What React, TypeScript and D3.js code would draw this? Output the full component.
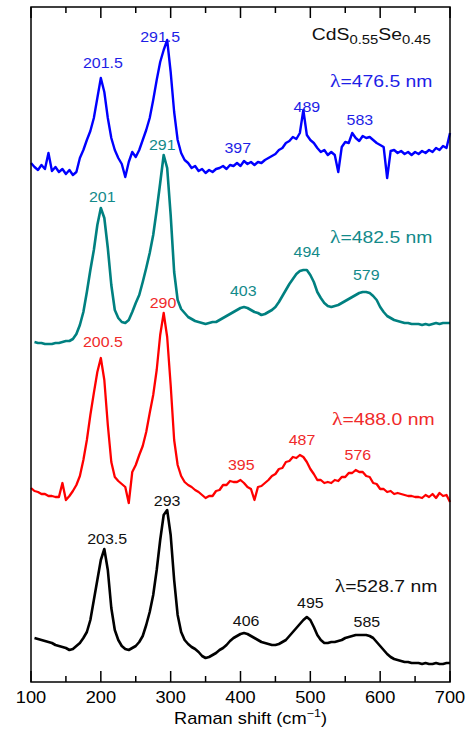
import React from 'react';
import * as d3 from 'd3';

// Raman shift grid (cm^-1)
const ramanShift = [
  100,105,110,115,120,125,130,135,140,145,
  150,155,160,165,170,175,180,185,190,195,
  200,205,210,215,220,225,230,235,240,245,
  250,255,260,265,270,275,280,285,290,295,
  300,305,310,315,320,325,330,335,340,345,
  350,355,360,365,370,375,380,385,390,395,
  400,405,410,415,420,425,430,435,440,445,
  450,455,460,465,470,475,480,485,490,495,
  500,505,510,515,520,525,530,535,540,545,
  550,555,560,565,570,575,580,585,590,595,
  600,605,610,615,620,625,630,635,640,645,
  650,655,660,665,670,675,680,685,690,695,
  700,
];

// Stacked intensities (arb. units, offsets included)
const blue4765 = [
  519,515,512,517,513,529,511,515,510,513,
  508,512,507,510,524,532,542,551,564,584,
  604,590,564,544,532,524,518,505,520,530,
  525,532,542,552,564,582,602,620,632,642,
  610,570,542,529,522,519,514,516,511,513,
  509,512,510,513,514,516,513,517,516,519,
  516,521,518,520,517,520,519,522,524,526,
  528,532,534,539,541,545,543,549,572,547,
  542,539,534,530,532,527,530,527,510,535,
  540,539,549,544,541,546,544,545,542,539,
  537,535,504,531,532,529,531,528,530,527,
  530,528,531,529,532,530,534,532,536,534,
  549,
];

const teal4825 = [
  null,340,339,339,338,338,338,339,339,340,
  341,341,343,348,357,370,390,412,432,457,
  474,464,434,397,372,364,360,359,362,370,
  379,387,400,414,429,447,472,499,527,514,
  467,410,382,373,369,365,363,361,360,359,
  358,359,360,360,362,364,366,368,370,372,
  374,375,374,372,370,369,367,368,370,372,
  375,380,386,392,398,403,408,411,412,412,
  407,400,390,384,379,376,375,376,377,379,
  381,383,385,387,389,390,390,389,386,382,
  375,370,366,364,362,361,360,359,359,358,
  358,358,357,358,357,358,359,358,359,359,
  359,
];

const red4880 = [
  194,191,190,188,188,186,186,185,185,199,
  182,186,191,197,206,222,242,267,289,310,
  324,302,257,220,205,201,198,195,179,210,
  217,227,236,250,269,287,312,347,369,345,
  297,242,217,206,200,197,195,192,190,187,
  184,186,186,191,192,197,197,201,200,200,
  202,199,195,193,182,195,196,199,202,206,
  208,213,214,220,221,225,224,227,225,220,
  213,208,202,202,199,200,199,202,201,205,
  205,209,209,212,210,210,206,205,199,198,
  193,193,190,191,188,189,188,187,186,186,
  185,185,184,187,185,188,184,189,186,187,
  180,
];

const black5287 = [
  null,44,43,42,41,40,39,37,36,35,
  34,32,33,36,39,44,50,62,82,102,
  122,133,112,74,52,42,36,33,32,34,
  36,40,46,57,70,87,112,142,167,172,
  147,102,67,50,42,38,35,33,30,26,
  24,25,27,29,32,34,37,41,44,46,
  48,49,48,46,44,42,40,39,38,37,
  37,38,40,42,46,50,54,58,62,65,
  62,55,47,42,39,39,40,40,41,42,
  44,45,46,47,47,47,47,46,44,40,
  36,32,28,25,23,22,21,20,20,19,
  19,19,18,19,18,18,19,18,18,19,
  19,
];

// Peak annotations: text, shift, intensity level
const bluePeakText = ['201.5', '291.5', '397', '489', '583'];
const bluePeakShift = [203, 285, 396, 495, 571];
const bluePeakLevel = [614, 640, 529, 570, 557];

const tealPeakText = ['201', '291', '403', '494', '579'];
const tealPeakShift = [202, 288, 404, 495, 580];
const tealPeakLevel = [480, 532, 386, 425, 402];

const redPeakText = ['200.5', '290', '395', '487', '576'];
const redPeakShift = [203, 289, 401, 488, 568];
const redPeakLevel = [335, 374, 212, 237, 222];

const blackPeakText = ['203.5', '293', '406', '495', '585'];
const blackPeakShift = [209, 295, 408, 500, 581];
const blackPeakLevel = [138, 176, 56, 74, 55];

const laserText = ['=476.5 nm', '=482.5 nm', '=488.0 nm', '=528.7 nm'];
const laserShift = [528, 528, 531, 535];
const laserLevel = [595, 439, 257, 90];

const majorTicks = [100, 200, 300, 400, 500, 600, 700];
const minorTicks = [150, 250, 350, 450, 550, 650];
const tickLabels = ['100', '200', '300', '400', '500', '600', '700'];

const W = 466;
const H = 729;
const M = { left: 31, right: 450, top: 7, bottom: 682 };

const COLORS = {
  blue: '#0000ff',
  blueText: '#1e1ee6',
  teal: '#008080',
  tealText: '#138a8a',
  red: '#ff0000',
  redText: '#f02a2a',
  black: '#000000',
};

const FONT = "'Liberation Sans', Arial, sans-serif";
const SX = 1.14;

function Txt({ x, y, size, fill, anchor = 'middle', children }: any) {
  return (
    <text
      transform={`translate(${x},${y}) scale(${SX},1)`}
      fontSize={size}
      fill={fill}
      textAnchor={anchor}
      fontFamily={FONT}
    >
      {children}
    </text>
  );
}

export default function App() {
  const x = d3.scaleLinear().domain([100, 700]).range([M.left, M.right]);
  const y = d3.scaleLinear().domain([0, 675]).range([M.bottom, M.top]);

  const line = d3
    .line<number | null>()
    .defined((d) => d != null)
    .x((_, i) => x(ramanShift[i]))
    .y((d) => y(d as number));

  const series = [
    { data: blue4765, color: COLORS.blue, w: 2.4 },
    { data: teal4825, color: COLORS.teal, w: 2.6 },
    { data: red4880, color: COLORS.red, w: 2.3 },
    { data: black5287, color: COLORS.black, w: 2.6 },
  ];

  const peakGroups = [
    { t: bluePeakText, s: bluePeakShift, l: bluePeakLevel, c: COLORS.blueText },
    { t: tealPeakText, s: tealPeakShift, l: tealPeakLevel, c: COLORS.tealText },
    { t: redPeakText, s: redPeakShift, l: redPeakLevel, c: COLORS.redText },
    { t: blackPeakText, s: blackPeakShift, l: blackPeakLevel, c: '#111' },
  ];

  return (
    <svg
      width={W}
      height={H}
      style={{ position: 'absolute', left: 0, top: 0, overflow: 'hidden', background: '#fff' }}
    >
      <rect x={0} y={0} width={W} height={H} fill="#fff" />
      {series.map((s, i) => (
        <path
          key={i}
          d={line(s.data as any) || ''}
          fill="none"
          stroke={s.color}
          strokeWidth={s.w}
          strokeLinejoin="round"
        />
      ))}

      {/* frame */}
      <rect
        x={M.left}
        y={M.top}
        width={M.right - M.left}
        height={M.bottom - M.top}
        fill="none"
        stroke="#000"
        strokeWidth={1.5}
      />
      {majorTicks.map((t) => (
        <g key={'M' + t}>
          <line x1={x(t)} x2={x(t)} y1={M.bottom} y2={M.bottom - 11} stroke="#000" strokeWidth={1.5} />
          <line x1={x(t)} x2={x(t)} y1={M.top} y2={M.top + 11} stroke="#000" strokeWidth={1.5} />
        </g>
      ))}
      {minorTicks.map((t) => (
        <g key={'m' + t}>
          <line x1={x(t)} x2={x(t)} y1={M.bottom} y2={M.bottom - 6} stroke="#000" strokeWidth={1.5} />
          <line x1={x(t)} x2={x(t)} y1={M.top} y2={M.top + 6} stroke="#000" strokeWidth={1.5} />
        </g>
      ))}
      {majorTicks.map((t, i) => (
        <Txt key={'L' + t} x={x(t)} y={703} size={16} fill="#000">
          {tickLabels[i]}
        </Txt>
      ))}
      <Txt x={(M.left + M.right) / 2 + 10} y={724} size={16} fill="#000">
        Raman shift (cm
        <tspan fontSize={11} dy={-7}>−1</tspan>
        <tspan fontSize={16} dy={7}>)</tspan>
      </Txt>

      {/* peak labels */}
      {peakGroups.map((g, gi) =>
        g.t.map((t, i) => (
          <Txt key={gi + '-' + i} x={x(g.s[i])} y={y(g.l[i])} size={14} fill={g.c}>
            {t}
          </Txt>
        ))
      )}

      {/* laser wavelength labels */}
      {laserText.map((t, i) => (
        <Txt
          key={'las' + i}
          x={x(laserShift[i])}
          y={y(laserLevel[i])}
          size={17}
          anchor="start"
          fill={[COLORS.blueText, COLORS.tealText, COLORS.redText, '#111'][i]}
        >
          <tspan fontFamily="'Liberation Serif', 'Times New Roman', serif" fontSize={19}>λ</tspan>
          {t}
        </Txt>
      ))}

      {/* compound label */}
      <Txt x={x(502)} y={y(642)} size={17} anchor="start" fill="#111">
        CdS
        <tspan fontSize={13} dy={4}>0.55</tspan>
        <tspan fontSize={17} dy={-4}>Se</tspan>
        <tspan fontSize={13} dy={4}>0.45</tspan>
      </Txt>
    </svg>
  );
}
